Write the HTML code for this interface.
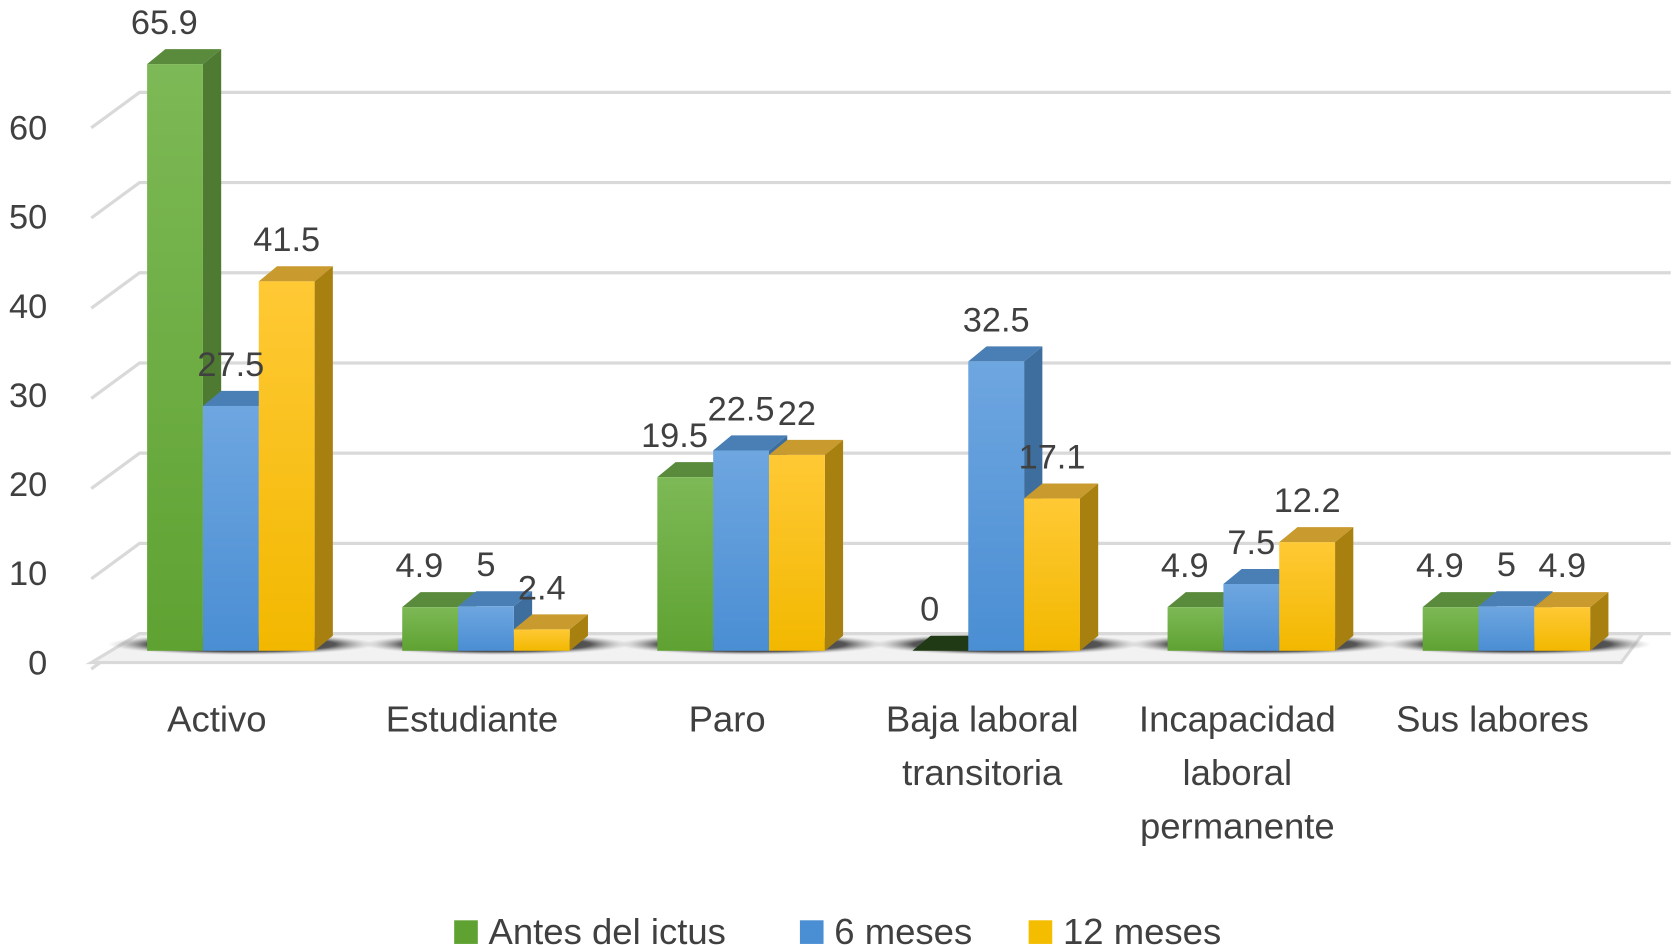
<!DOCTYPE html>
<html><head><meta charset="utf-8"><style>
html,body{margin:0;padding:0;background:#fff;}
svg{display:block;font-family:"Liberation Sans",sans-serif;}
</style></head><body>
<svg id="chart" width="1675" height="945" viewBox="0 0 1560 880" preserveAspectRatio="none" xmlns="http://www.w3.org/2000/svg">
<defs>
<radialGradient id="shadow" cx="50%" cy="50%" r="50%"><stop offset="0" stop-color="#222"/><stop offset="0.7" stop-color="#555"/><stop offset="1" stop-color="#bbb" stop-opacity="0"/></radialGradient>
<linearGradient id="gG" x1="0" y1="0" x2="0" y2="1"><stop offset="0" stop-color="#7db956"/><stop offset="1" stop-color="#5fa232"/></linearGradient>
<linearGradient id="gB" x1="0" y1="0" x2="0" y2="1"><stop offset="0" stop-color="#6ea6e0"/><stop offset="1" stop-color="#4a8ed3"/></linearGradient>
<linearGradient id="gY" x1="0" y1="0" x2="0" y2="1"><stop offset="0" stop-color="#ffc935"/><stop offset="1" stop-color="#f2b800"/></linearGradient>
</defs>
<g id="grid"></g>
<g id="floor"></g>
<g id="bars"></g>
<g id="labels"></g>
<g id="legend"></g>
</svg>
<script>
const categories = [["Activo"],["Estudiante"],["Paro"],["Baja laboral","transitoria"],["Incapacidad","laboral","permanente"],["Sus labores"]];
const seriesNames = ["Antes del ictus","6 meses","12 meses"];
const antes = [65.9, 4.9, 19.5, 0, 4.9, 4.9];
const meses6 = [27.5, 5, 22.5, 32.5, 7.5, 5];
const meses12 = [41.5, 2.4, 22, 17.1, 12.2, 4.9];
const ticks = [0,10,20,30,40,50,60];

const series = [antes, meses6, meses12];
const front = ["url(#gG)","url(#gB)","url(#gY)"];
const topC = ["#5a8a3c","#4a7fb5","#c99a2e"];
const sideC = ["#4e7a31","#3d6e9e","#a8800f"];
const legC = ["#5fa232","#4a8ed3","#f5bd00"];
const NS = "http://www.w3.org/2000/svg";
const base = 606, unit = 8.29, dx = 17, dy = -14, bw = 52, gap = 237.6, c0 = 215;
const y = v => base - v*unit;
const gx = i => c0 + i*gap;
function mk(tag, attrs, parent){const e=document.createElementNS(NS,tag);for(const k in attrs)e.setAttribute(k,attrs[k]);parent.appendChild(e);return e;}
const grid=document.getElementById('grid'), floor=document.getElementById('floor'), bars=document.getElementById('bars'), labels=document.getElementById('labels'), legend=document.getElementById('legend');

ticks.forEach(t=>{
  const yb = 590 - t*8.4, yf = 617 - t*8.3;
  const l = mk('polyline',{points:`85,${yb+33} 130,${yb} 1556,${yb}`,fill:'none',stroke:'#d9d9d9','stroke-width':3},grid);
  
  
  const tx = mk('text',{x:44,y:yf+11,'font-size':32,fill:'#404040','text-anchor':'end'},grid);
  tx.textContent=t;
  
  
});
const fl = mk('polygon',{points:'85,617 130,590 1530,590 1510,617',fill:'#f2f2f2',stroke:'#d9d9d9','stroke-width':3},floor);


categories.forEach((c,i)=>{
  const sh = mk('ellipse',{cx:gx(i)+10,cy:600,rx:125,ry:10,fill:'url(#shadow)'},floor);
  
  
});

categories.forEach((c,i)=>{
  series.forEach((s,k)=>{
    const v=s[i], x=gx(i)-78+k*bw, yt=y(v);
    const g=mk('g',{},bars);
    
    
    if(v>0){
      mk('polygon',{points:`${x+bw},${yt} ${x+bw+dx},${yt+dy} ${x+bw+dx},${base+dy} ${x+bw},${base}`,fill:sideC[k]},g);
      mk('polygon',{points:`${x},${yt} ${x+dx},${yt+dy} ${x+bw+dx},${yt+dy} ${x+bw},${yt}`,fill:topC[k]},g);
      mk('rect',{x:x,y:yt,width:bw,height:base-yt,fill:front[k]},g);
    } else {
      mk('polygon',{points:`${x},${base} ${x+dx},${base+dy} ${x+bw+dx},${base+dy} ${x+bw},${base}`,fill:'#1f3a14'},g);
    }
    const t=mk('text',{x:x+bw/2+(k==0?-10:0),y:yt+dy-14,'font-size':32,fill:'#404040','text-anchor':'middle'},labels);
    t.textContent=v;
    
    
  });
  c.forEach((line,j)=>{
    const t=mk('text',{x:gx(i)-13,y:681+j*50,'font-size':34,fill:'#404040','text-anchor':'middle'},labels);
    t.textContent=line;
    
    
  });
});

const lx=[423,745,958];
seriesNames.forEach((n,k)=>{
  const g=mk('g',{},legend);
  
  
  mk('rect',{x:lx[k],y:857,width:22,height:22,fill:legC[k]},g);
  const t=mk('text',{x:lx[k]+32,y:879,'font-size':34,fill:'#404040'},g);
  t.textContent=n;
});
</script>
</body></html>
